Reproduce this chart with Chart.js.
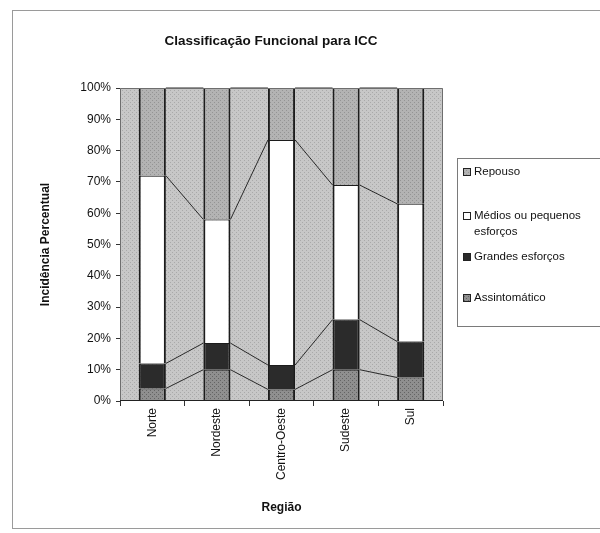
<!DOCTYPE html>
<html>
<head>
<meta charset="utf-8">
<script src="https://cdn.jsdelivr.net/npm/chart.js@4.4.1/dist/chart.umd.min.js"></script>
<style>
  html, body { margin: 0; padding: 0; background: #fff; }
  #wrap { width: 600px; height: 533px; }
</style>
</head>
<body>
<div id="wrap"><canvas id="c" width="600" height="533"></canvas></div>
<script>
// Regions and the share (%) of each functional class per region
const regioes = ['Norte', 'Nordeste', 'Centro-Oeste', 'Sudeste', 'Sul'];
const assintomatico = [4, 10, 3.7, 10, 7.5];
const grandesEsforcos = [8, 8.5, 7.8, 16, 11.5];
const mediosPequenos = [60, 39.5, 71.9, 43, 44];
const repouso = [28, 42, 16.6, 31, 37];
const yTicks = [0, 10, 20, 30, 40, 50, 60, 70, 80, 90, 100];

const FONT = '"Liberation Sans", Arial, sans-serif';

// Small dotted fills, like a print-style halftone
function dots(base, dot) {
  const c = document.createElement('canvas');
  c.width = 4; c.height = 4;
  const g = c.getContext('2d');
  g.fillStyle = base; g.fillRect(0, 0, 4, 4);
  g.fillStyle = dot;
  g.fillRect(0, 0, 1, 1); g.fillRect(2, 2, 1, 1);
  return g.createPattern(c, 'repeat');
}
const ctx = document.getElementById('c').getContext('2d');
const fillPlot = dots('#c7c7c7', '#a9a9a9');
const fillRepouso = dots('#b3b3b3', '#949494');
const fillAssint = dots('#8f8f8f', '#646464');

// Frame, plot background and plot border
const framePlugin = {
  id: 'frame',
  beforeDraw(chart) {
    const c = chart.ctx, a = chart.chartArea;
    c.save();
    c.fillStyle = '#fff';
    c.fillRect(0, 0, chart.width, chart.height);
    c.strokeStyle = '#9a9a9a';
    c.lineWidth = 1;
    c.strokeRect(12.5, 10.5, 600, 518);
    c.fillStyle = fillPlot;
    c.fillRect(a.left, a.top, a.right - a.left, a.bottom - a.top);
    c.restore();
  },
  afterDraw(chart) {
    const c = chart.ctx, a = chart.chartArea;
    c.save();
    c.strokeStyle = '#6e6e6e';
    c.lineWidth = 1;
    c.beginPath();
    c.moveTo(a.left + 0.5, a.bottom);
    c.lineTo(a.left + 0.5, a.top + 0.5);
    c.lineTo(a.right - 0.5, a.top + 0.5);
    c.lineTo(a.right - 0.5, a.bottom);
    c.stroke();
    c.strokeStyle = '#222';
    c.beginPath();
    c.moveTo(a.left, a.bottom - 0.5);
    c.lineTo(a.right, a.bottom - 0.5);
    c.stroke();
    // chart title
    c.fillStyle = '#111';
    c.font = 'bold 13.5px ' + FONT;
    c.textAlign = 'center';
    c.textBaseline = 'middle';
    c.fillText('Classificação Funcional para ICC', 271, 41);
    c.restore();
  }
};

// Series lines joining the top of each segment from one bar to the next
const seriesLinesPlugin = {
  id: 'seriesLines',
  afterDatasetsDraw(chart) {
    const c = chart.ctx;
    c.save();
    c.strokeStyle = '#2a2a2a';
    c.lineWidth = 1;
    chart.data.datasets.forEach((ds, i) => {
      const bars = chart.getDatasetMeta(i).data;
      c.beginPath();
      for (let j = 0; j < bars.length - 1; j++) {
        const a = bars[j], b = bars[j + 1];
        c.moveTo(a.x + a.width / 2, a.y);
        c.lineTo(b.x - b.width / 2, b.y);
      }
      c.stroke();
    });
    c.restore();
  }
};

// Boxed legend on the right, top entry first, long labels wrapped
const legendPlugin = {
  id: 'boxLegend',
  afterDraw(chart) {
    const c = chart.ctx;
    const x0 = 457, y0 = 158, w = 150, h = 168;
    c.save();
    c.strokeStyle = '#7a7a7a';
    c.lineWidth = 1;
    c.strokeRect(x0 + 0.5, y0 + 0.5, w, h);
    c.font = '11.5px ' + FONT;
    c.textBaseline = 'middle';
    c.textAlign = 'left';
    const rows = [172, 216, 257, 298];
    const items = chart.data.datasets.slice().reverse();
    items.forEach((ds, k) => {
      const y = rows[k];
      c.fillStyle = ds.backgroundColor;
      c.fillRect(463, y - 4, 8, 8);
      c.strokeStyle = '#222';
      c.strokeRect(463.5, y - 3.5, 7, 7);
      c.fillStyle = '#111';
      const words = ds.label.split(' ');
      let line = '', ly = y;
      words.forEach(wd => {
        const t = line ? line + ' ' + wd : wd;
        if (c.measureText(t).width > 124 && line) {
          c.fillText(line, 474, ly);
          line = wd; ly += 16;
        } else line = t;
      });
      c.fillText(line, 474, ly);
    });
    c.restore();
  }
};

const barStyle = {
  borderColor: '#1c1c1c',
  borderWidth: { left: 2, right: 2, top: 1, bottom: 0 },
  borderSkipped: false,
  categoryPercentage: 1,
  barPercentage: 0.42
};

new Chart(ctx, {
  type: 'bar',
  data: {
    labels: regioes,
    datasets: [
      Object.assign({ label: 'Assintomático', data: assintomatico, backgroundColor: fillAssint }, barStyle),
      Object.assign({ label: 'Grandes esforços', data: grandesEsforcos, backgroundColor: '#2b2b2b' }, barStyle),
      Object.assign({ label: 'Médios ou pequenos esforços', data: mediosPequenos, backgroundColor: '#ffffff' }, barStyle),
      Object.assign({ label: 'Repouso', data: repouso, backgroundColor: fillRepouso }, barStyle)
    ]
  },
  options: {
    responsive: false,
    animation: false,
    layout: { padding: { left: 14, right: 157, top: 88, bottom: 10 } },
    plugins: {
      legend: { display: false },
      title: { display: false },
      tooltip: { enabled: false }
    },
    scales: {
      x: {
        stacked: true,
        grid: { drawOnChartArea: false, drawTicks: true, tickLength: 5, offset: true, color: '#333' },
        border: { display: false },
        ticks: {
          minRotation: 90, maxRotation: 90, padding: 2,
          color: '#111', font: { family: FONT, size: 12 }
        },
        title: {
          display: true, text: 'Região', color: '#111',
          font: { family: FONT, size: 12, weight: 'bold' },
          padding: { top: 4, bottom: 8 }
        },
        afterFit(scale) { scale.height = 122; }
      },
      y: {
        stacked: true,
        min: 0, max: 100,
        afterBuildTicks(scale) { scale.ticks = yTicks.map(v => ({ value: v })); },
        grid: { drawOnChartArea: false, drawTicks: true, tickLength: 4, color: '#333' },
        border: { display: false },
        ticks: {
          padding: 5, color: '#111',
          font: { family: FONT, size: 12 },
          callback: v => v + '%'
        },
        title: {
          display: true, text: 'Incidência Percentual', color: '#111',
          font: { family: FONT, size: 12, weight: 'bold' },
          padding: { top: 24, bottom: 4 }
        },
        afterFit(scale) { scale.width = 106; }
      }
    }
  },
  plugins: [framePlugin, seriesLinesPlugin, legendPlugin]
});
</script>
</body>
</html>
